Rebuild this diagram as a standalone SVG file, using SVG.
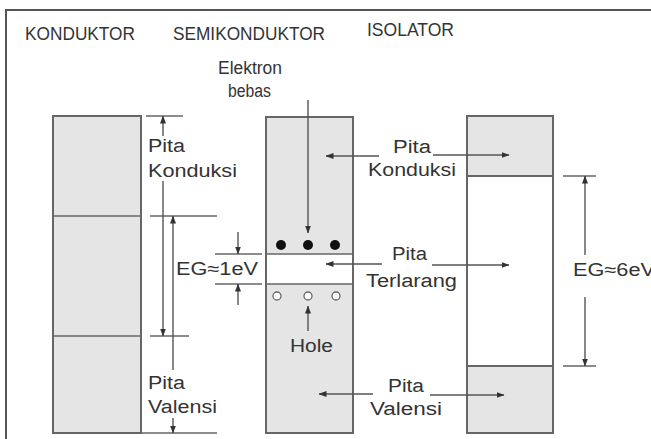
<svg xmlns="http://www.w3.org/2000/svg" width="651" height="439" viewBox="0 0 651 439">
<style>
.t{font-family:"Liberation Sans",Arial,sans-serif;font-size:18px;fill:#333}
.box{stroke:#666;stroke-width:2}
.g{fill:#e5e5e5}
.w{fill:#fff}
.ln{stroke:#666;stroke-width:1.6;fill:none}
.ar{stroke:#555;stroke-width:1.4;fill:none}
</style>
<defs>
<marker id="ah" viewBox="0 0 8 6" refX="7.5" refY="3" markerWidth="8" markerHeight="6" markerUnits="userSpaceOnUse" orient="auto-start-reverse">
<path d="M0,0 L8,3 L0,6 z" fill="#333"/>
</marker>
</defs>
<rect width="651" height="439" fill="#fff"/>
<path d="M6,445 V10 H660" fill="none" stroke="#555" stroke-width="2"/>

<g id="titles">
<text class="t" x="25" y="40" textLength="110" lengthAdjust="spacingAndGlyphs">KONDUKTOR</text>
<text class="t" x="173" y="40" textLength="152" lengthAdjust="spacingAndGlyphs">SEMIKONDUKTOR</text>
<text class="t" x="367" y="36" textLength="87" lengthAdjust="spacingAndGlyphs">ISOLATOR</text>
</g>

<g id="konduktor">
<rect class="box g" x="53" y="116" width="88" height="317"/>
<line class="ln" x1="53" y1="216" x2="141" y2="216"/>
<line class="ln" x1="53" y1="336" x2="141" y2="336"/>
</g>

<g id="semikonduktor">
<rect class="box g" x="266" y="117" width="87" height="316"/>
<rect class="w" x="267" y="254" width="85" height="30"/>
<line class="ln" x1="266" y1="254" x2="353" y2="254"/>
<line class="ln" x1="266" y1="284" x2="353" y2="284"/>
<circle cx="281" cy="245" r="5" fill="#111"/>
<circle cx="308" cy="245" r="5" fill="#111"/>
<circle cx="335" cy="245" r="5" fill="#111"/>
<circle cx="277" cy="296" r="4" fill="#fff" stroke="#666" stroke-width="1.3"/>
<circle cx="308" cy="296" r="4" fill="#fff" stroke="#666" stroke-width="1.3"/>
<circle cx="336" cy="296" r="4" fill="#fff" stroke="#666" stroke-width="1.3"/>
</g>

<g id="isolator">
<rect class="box w" x="467" y="116" width="86" height="317"/>
<rect class="box g" x="467" y="116" width="86" height="60"/>
<rect class="box g" x="467" y="366" width="86" height="67"/>
</g>

<g id="connectors">
<line class="ln" x1="146" y1="116" x2="183" y2="116"/>
<line class="ln" x1="150" y1="216" x2="217" y2="216"/>
<line class="ln" x1="150" y1="336" x2="189" y2="336"/>
<line class="ln" x1="141" y1="433" x2="217" y2="433"/>
<line class="ar" x1="163" y1="136" x2="163" y2="116" marker-end="url(#ah)"/>
<line class="ar" x1="163" y1="181" x2="163" y2="336" marker-end="url(#ah)"/>
<line class="ar" x1="173" y1="370" x2="173" y2="216" marker-end="url(#ah)"/>
<line class="ar" x1="173" y1="418" x2="173" y2="433" marker-end="url(#ah)"/>
<line class="ln" x1="215" y1="254" x2="262" y2="254"/>
<line class="ln" x1="215" y1="284" x2="262" y2="284"/>
<line class="ar" x1="238" y1="232" x2="238" y2="254" marker-end="url(#ah)"/>
<line class="ar" x1="238" y1="305" x2="238" y2="284" marker-end="url(#ah)"/>
<line class="ar" x1="308" y1="100" x2="308" y2="233" marker-end="url(#ah)"/>
<line class="ar" x1="308" y1="331" x2="308" y2="306" marker-end="url(#ah)"/>
<line class="ar" x1="379" y1="156" x2="326" y2="156" marker-end="url(#ah)"/>
<line class="ar" x1="433" y1="155" x2="509" y2="155" marker-end="url(#ah)"/>
<line class="ar" x1="382" y1="264" x2="326" y2="264" marker-end="url(#ah)"/>
<line class="ar" x1="432" y1="265" x2="509" y2="265" marker-end="url(#ah)"/>
<line class="ar" x1="373" y1="394" x2="319" y2="394" marker-end="url(#ah)"/>
<line class="ar" x1="430" y1="395" x2="504" y2="395" marker-end="url(#ah)"/>
<line class="ln" x1="563" y1="176" x2="596" y2="176"/>
<line class="ln" x1="563" y1="366" x2="596" y2="366"/>
<line class="ar" x1="585" y1="255" x2="585" y2="176" marker-end="url(#ah)"/>
<line class="ar" x1="585" y1="297" x2="585" y2="366" marker-end="url(#ah)"/>
</g>

<g id="labels">
<text class="t" x="148" y="152" textLength="37" lengthAdjust="spacingAndGlyphs">Pita</text>
<text class="t" x="148" y="177" textLength="89" lengthAdjust="spacingAndGlyphs">Konduksi</text>
<text class="t" x="176" y="275" textLength="82" lengthAdjust="spacingAndGlyphs">EG≈1eV</text>
<text class="t" x="148" y="389" textLength="37" lengthAdjust="spacingAndGlyphs">Pita</text>
<text class="t" x="148" y="413" textLength="69" lengthAdjust="spacingAndGlyphs">Valensi</text>
<text class="t" x="218" y="74" textLength="64" lengthAdjust="spacingAndGlyphs">Elektron</text>
<text class="t" x="228" y="97" textLength="43" lengthAdjust="spacingAndGlyphs">bebas</text>
<text class="t" x="393" y="153" textLength="38" lengthAdjust="spacingAndGlyphs">Pita</text>
<text class="t" x="368" y="176" textLength="88" lengthAdjust="spacingAndGlyphs">Konduksi</text>
<text class="t" x="392" y="260" textLength="35" lengthAdjust="spacingAndGlyphs">Pita</text>
<text class="t" x="366" y="287" textLength="91" lengthAdjust="spacingAndGlyphs">Terlarang</text>
<text class="t" x="290" y="352" textLength="43" lengthAdjust="spacingAndGlyphs">Hole</text>
<text class="t" x="388" y="392" textLength="36" lengthAdjust="spacingAndGlyphs">Pita</text>
<text class="t" x="370" y="415" textLength="72" lengthAdjust="spacingAndGlyphs">Valensi</text>
<text class="t" x="573" y="276" textLength="82" lengthAdjust="spacingAndGlyphs">EG≈6eV</text>
</g>
</svg>
